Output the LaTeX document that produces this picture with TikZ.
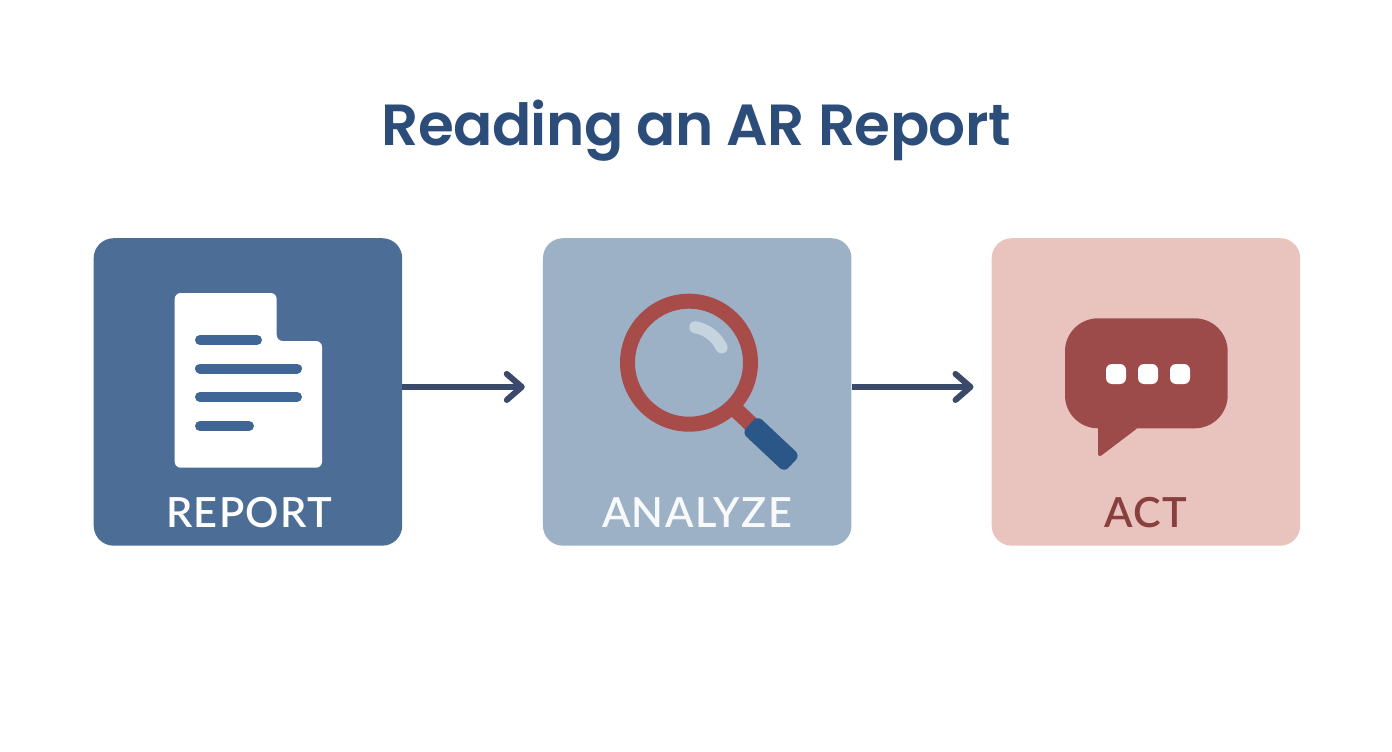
\documentclass[tikz,border=0pt]{standalone}
\usepackage{fontspec}
\setmainfont{Lato}
\newfontfamily\titlefont[LetterSpace=-1]{Poppins SemiBold}
\newfontfamily\labelfont[LetterSpace=3.2]{Lato Semibold}
\usetikzlibrary{arrows.meta}
\definecolor{ctitle}{HTML}{2C4D7A}
\definecolor{creport}{HTML}{4C6E96}
\definecolor{canalyze}{HTML}{9DB1C6}
\definecolor{cact}{HTML}{E9C4BF}
\definecolor{cink}{HTML}{3B4A6B}
\definecolor{cring}{HTML}{A84C4A}
\definecolor{chandle}{HTML}{2A5788}
\definecolor{cbubble}{HTML}{9C4B4A}
\definecolor{cacttext}{HTML}{8A3F3F}
\definecolor{cline}{HTML}{3F6695}
\definecolor{cshine}{HTML}{C6D4E0}
\tikzset{
  x=1pt,y=-1pt,
  card/.style={draw=none,rounded corners=20pt,minimum width=308.5pt,minimum height=307.5pt,inner sep=0pt,anchor=north west},
  cardlabel/.style={inner sep=0pt,anchor=base,font=\fontsize{41.5}{41.5}\labelfont},
  flow/.style={draw=cink,line width=6pt,shorten >=18pt,-{Straight Barb[length=15pt,width=26pt,line cap=round,line join=round]}},
  docline/.style={draw=cline,line width=10pt,line cap=round},
  dot/.style={fill=white,draw=none,rounded corners=6pt,minimum size=20pt,inner sep=0pt},
}
\begin{document}
\begin{tikzpicture}
\useasboundingbox (0,0) rectangle (1392,752);
\fill[white] (0,0) rectangle (1392,752);
\node[inner sep=0pt,anchor=base,text=ctitle,font=\fontsize{58}{58}\titlefont] (title) at (696,145) {Reading an AR Report};
\node[card,fill=creport] (report) at (93.5,238) {};
\node[card,fill=canalyze] (analyze) at (542.75,238) {};
\node[card,fill=cact] (act) at (991.5,238) {};
\draw[flow] ([yshift=5pt]report.east) -- ([yshift=5pt]analyze.west);
\draw[flow] ([yshift=5pt]analyze.east) -- ([yshift=5pt]act.west);
% document icon
\fill[white,rounded corners=6pt] (174.7,293) -- (276.7,293) -- (276.7,341) -- (322,341) -- (322,467.7) -- (174.7,467.7) -- cycle;
\draw[docline] (200,340) -- (257,340);
\draw[docline] (200,368.5) -- (297,368.5);
\draw[docline] (200,397) -- (297,397);
\draw[docline] (200,426) -- (249,426);
% magnifier
\draw[cring,line width=16pt] (733,407) -- (755,428);
\begin{scope}[shift={(771,444)},rotate=-43.2]
\fill[chandle,rounded corners=6pt] (-29,-11.5) rectangle (29,11.5);
\end{scope}
\draw[cring,line width=15pt] (689,362.7) circle[radius=61.5];
\draw[cshine,line width=12pt,line cap=round] (695.2,327.2) arc[start angle=-80,end angle=-25,radius=36];
% speech bubble
\fill[cbubble,rounded corners=33pt] (1065,318.3) rectangle (1227.7,428.3);
\fill[cbubble,rounded corners=4pt] (1098,420) -- (1098,458) -- (1139,427) -- (1139,420) -- cycle;
\node[dot] (d1) at (1116,374) {};
\node[dot] (d2) at (1148,374) {};
\node[dot] (d3) at (1180,374) {};
% labels
\node[cardlabel,text=white] (l1) at (249,527) {REPORT};
\node[cardlabel,text=white!92!canalyze] (l2) at (697,527) {ANALYZE};
\node[cardlabel,text=cacttext] (l3) at (1146,527) {ACT};
\end{tikzpicture}
\end{document}
